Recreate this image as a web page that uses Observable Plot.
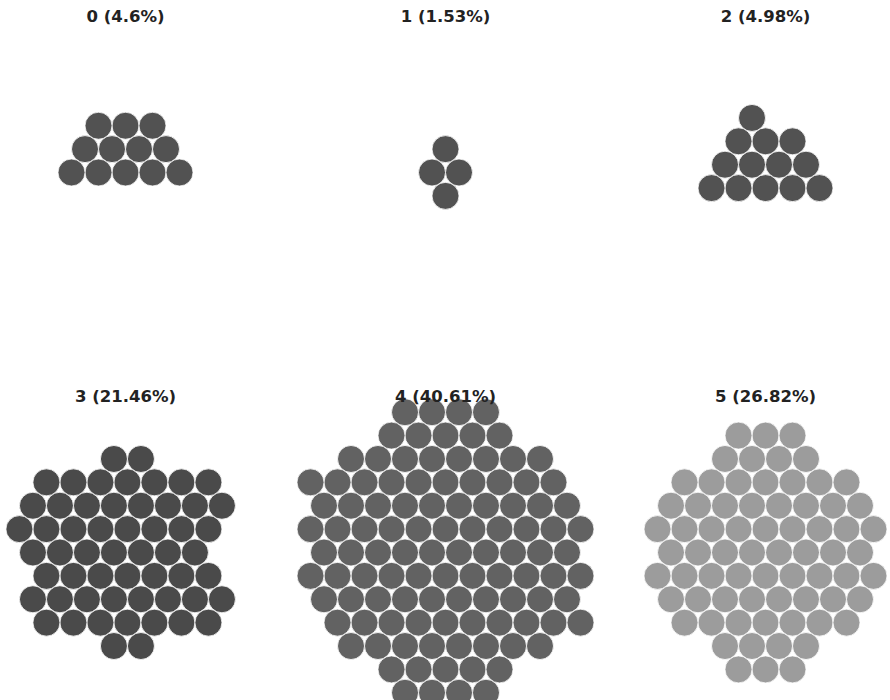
<!DOCTYPE html>
<html><head><meta charset="utf-8">
<script src="https://cdn.jsdelivr.net/npm/d3@7"></script>
<script src="https://cdn.jsdelivr.net/npm/@observablehq/plot@0.6"></script>
<style>body{margin:0;background:#fff;font-family:"DejaVu Sans",sans-serif}</style>
</head><body><div id="chart"></div>
<script>
const categories = ["0", "1", "2", "3", "4", "5"];
const percents = [4.6, 1.53, 4.98, 21.46, 40.61, 26.82];
const counts = [12, 4, 13, 56, 106, 70];
const colors = ["#525252", "#525252", "#525252", "#4a4a4a", "#626262", "#9c9c9c"];
const cols = [0, 1, 2, 0, 1, 2];
const rows = [0, 0, 0, 1, 1, 1];

const packRadius = 10;   // radius used for the sibling packing
const dotRadius = 13.5;  // drawn radius in pixels
const dots = [];
categories.forEach((c, i) => {
  const circles = d3.range(counts[i]).map(() => ({r: packRadius}));
  d3.packSiblings(circles);
  circles.forEach(p => dots.push({cat: c, x: p.x / packRadius, y: p.y / packRadius, col: cols[i], row: rows[i]}));
});
const titles = categories.map((c, i) => ({cat: c, label: `${c} (${percents[i]}%)`, col: cols[i], row: rows[i]}));

const chart = Plot.plot({
  width: 890, height: 700, margin: 0,
  style: {fontFamily: "DejaVu Sans, sans-serif", background: "white"},
  fx: {domain: [0, 1, 2], paddingInner: 0.22, paddingOuter: 0, axis: null},
  fy: {domain: [0, 1], paddingInner: 0.1579, paddingOuter: 0, axis: null},
  x: {domain: [-125 / dotRadius, 125 / dotRadius], axis: null},
  y: {domain: [-172 / dotRadius, 148 / dotRadius], reverse: true, axis: null},
  color: {domain: categories, range: colors},
  marks: [
    Plot.dot(dots, {x: "x", y: "y", fx: "col", fy: "row", r: dotRadius, fill: "cat", stroke: "white", strokeWidth: 0.8}),
    Plot.text(titles, {fx: "col", fy: "row", text: "label", frameAnchor: "top", dy: 10, fontWeight: "bold", fontSize: 16.5, fill: "#222"})
  ]
});
document.getElementById("chart").append(chart);
</script>
</body></html>
